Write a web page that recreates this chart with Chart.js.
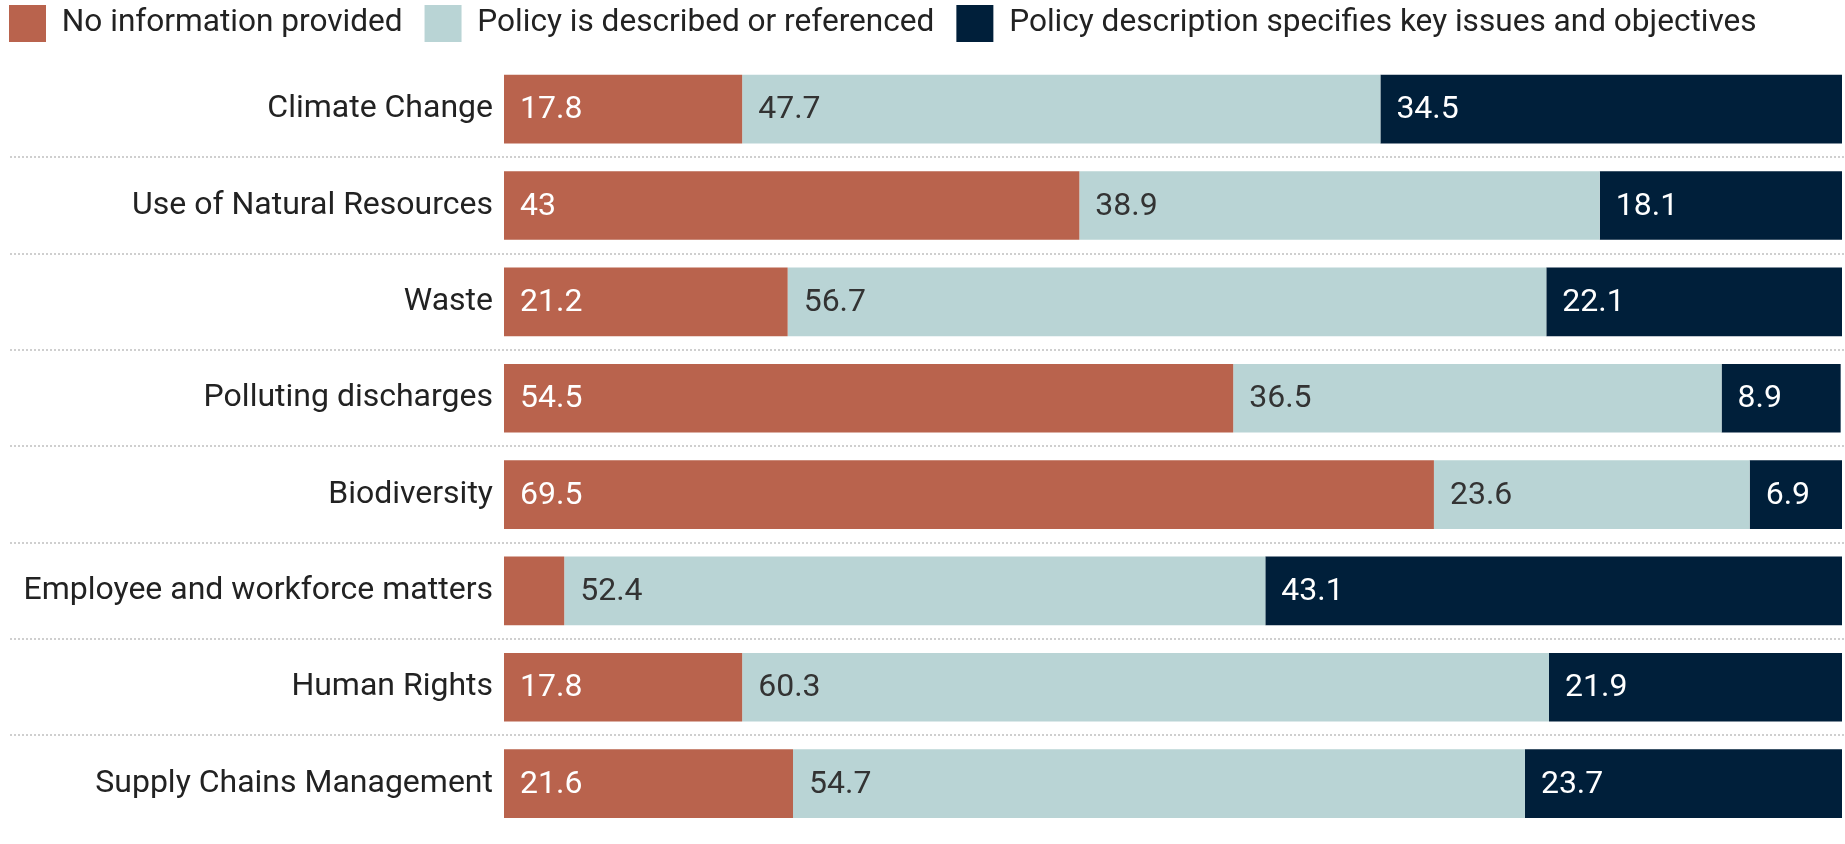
<!DOCTYPE html>
<html>
<head>
<meta charset="utf-8">
<script src="https://cdn.jsdelivr.net/npm/chart.js@4.4.1/dist/chart.umd.min.js"></script>
<style>
  html, body { margin: 0; padding: 0; background: #fff; overflow: hidden; }
  #wrap { width: 1845px; height: 862px; }
</style>
</head>
<body>
<div id="wrap"><canvas id="policyChart" width="1845" height="862"></canvas></div>
<script>
const categories = [
    "Climate Change",
    "Use of Natural Resources",
    "Waste",
    "Polluting discharges",
    "Biodiversity",
    "Employee and workforce matters",
    "Human Rights",
    "Supply Chains Management"
];

const noInfo = [17.8, 43, 21.2, 54.5, 69.5, 4.5, 17.8, 21.6];
const described = [47.7, 38.9, 56.7, 36.5, 23.6, 52.4, 60.3, 54.7];
const keyIssues = [34.5, 18.1, 22.1, 8.9, 6.9, 43.1, 21.9, 23.7];

const seriesNames = [
    "No information provided",
    "Policy is described or referenced",
    "Policy description specifies key issues and objectives"
];

const FONT = "Roboto";

const dataFirst = {
    label: seriesNames[0],
    data: noInfo,
    backgroundColor: '#b9634d',
    labelColor: '#ffffff'
};

const dataSecond = {
    label: seriesNames[1],
    data: described,
    backgroundColor: '#b9d4d5',
    labelColor: '#333333'
};

const dataThird = {
    label: seriesNames[2],
    data: keyIssues,
    backgroundColor: '#001f3a',
    labelColor: '#ffffff'
};

// value text inside each segment, left aligned, hidden when it does not fit
const barLabels = {
    id: 'barLabels',
    afterDatasetsDraw(chart) {
        const ctx = chart.ctx;
        ctx.save();
        ctx.font = '32px ' + FONT;
        ctx.textBaseline = 'middle';
        ctx.textAlign = 'left';
        chart.data.datasets.forEach((ds, i) => {
            chart.getDatasetMeta(i).data.forEach((bar, j) => {
                const txt = String(ds.data[j]);
                const left = Math.min(bar.x, bar.base);
                const w = Math.abs(bar.x - bar.base);
                if (ctx.measureText(txt).width + 24 > w) return;
                ctx.fillStyle = ds.labelColor;
                ctx.fillText(txt, left + 16, bar.y + 1);
            });
        });
        ctx.restore();
    }
};

// dotted separators between categories, running under the labels too
const separators = {
    id: 'separators',
    beforeDatasetsDraw(chart) {
        const y = chart.scales.y;
        const ctx = chart.ctx;
        ctx.save();
        ctx.strokeStyle = '#cfcfcf';
        ctx.lineWidth = 2;
        ctx.setLineDash([2, 2]);
        for (let i = 1; i < categories.length; i++) {
            const py = Math.round((y.getPixelForValue(i - 1) + y.getPixelForValue(i)) / 2);
            ctx.beginPath();
            ctx.moveTo(10, py);
            ctx.lineTo(chart.width, py);
            ctx.stroke();
        }
        ctx.restore();
    }
};

// pull the legend into the top left corner and fix its height
const legendPlace = {
    id: 'legendPlace',
    beforeInit(chart) {
        const fit = chart.legend.fit;
        chart.legend.fit = function () {
            fit.call(this);
            this.height = 61;
        };
    },
    afterLayout(chart) {
        chart.legend.left = -13;
        chart.legend.top = -17;
    }
};

const chartOptions = {
    indexAxis: 'y',
    responsive: false,
    animation: false,
    layout: {
        padding: { left: 0, right: 3, top: 0, bottom: 0 }
    },
    scales: {
        x: {
            stacked: true,
            min: 0,
            max: 100,
            display: false
        },
        y: {
            stacked: true,
            grid: { display: false, drawTicks: false },
            border: { display: false },
            ticks: {
                color: '#222222',
                padding: 11,
                font: { family: FONT, size: 32 }
            },
            afterFit(scale) {
                scale.width = 504;
            }
        }
    },
    plugins: {
        legend: {
            display: true,
            position: 'top',
            align: 'start',
            labels: {
                boxWidth: 37,
                boxHeight: 37,
                padding: 22,
                color: '#222222',
                font: { family: FONT, size: 31.6 }
            }
        },
        tooltip: { enabled: false }
    }
};

const policyChart = new Chart(document.getElementById("policyChart"), {
    type: 'bar',
    data: {
        labels: categories,
        datasets: [dataFirst, dataSecond, dataThird].map(d => Object.assign({
            categoryPercentage: 1,
            barPercentage: 0.712,
            borderWidth: 0
        }, d))
    },
    options: chartOptions,
    plugins: [separators, barLabels, legendPlace]
});
</script>
</body>
</html>
